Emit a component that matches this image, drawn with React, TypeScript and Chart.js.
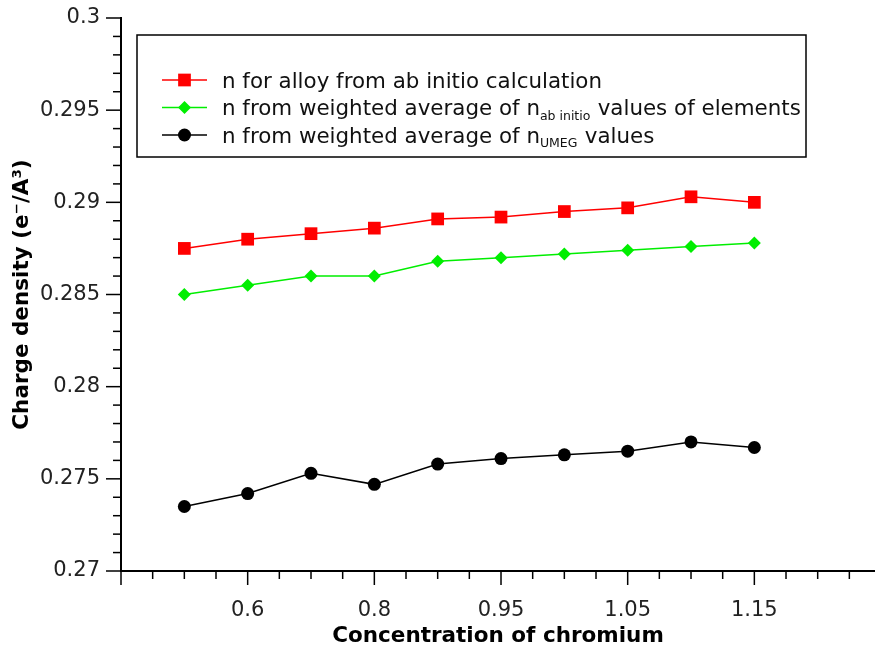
import React, { useEffect, useRef } from 'react';
import { Chart, registerables } from 'chart.js';

Chart.register(...registerables);

// Point positions (index of each composition along the axis)
const pointIndex = [0, 1, 2, 3, 4, 5, 6, 7, 8, 9];
// Labelled x ticks (by point index) and their text
const xTickIndex = [1, 3, 5, 7, 9];
const xTickLabels = ['0.6', '0.8', '0.95', '1.05', '1.15'];

// Series values (charge density, e-/A^3)
const alloyAbInitio = [0.2875, 0.2880, 0.2883, 0.2886, 0.2891, 0.2892, 0.2895, 0.2897, 0.2903, 0.2900];
const weightedAbInitio = [0.2850, 0.2855, 0.2860, 0.2860, 0.2868, 0.2870, 0.2872, 0.2874, 0.2876, 0.2878];
const weightedUmeg = [0.2735, 0.2742, 0.2753, 0.2747, 0.2758, 0.2761, 0.2763, 0.2765, 0.2770, 0.2767];

const seriesNames = [
  'n for alloy from ab initio calculation',
  'n from weighted average of n_ab initio values of elements',
  'n from weighted average of n_UMEG values',
];
// Legend text pieces: [text, isSubscript]
const legendParts: [string, boolean][][] = [
  [['n for alloy from ab initio calculation', false]],
  [['n from weighted average of n', false], ['ab initio', true], [' values of elements', false]],
  [['n from weighted average of n', false], ['UMEG', true], [' values', false]],
];
const seriesColors = ['#ff0000', '#00ee00', '#000000'];
const seriesMarkers = ['rect', 'rectRot', 'circle'];
const seriesRadius = [9, 6.5, 6.5];

const xTitle = 'Concentration of chromium';
const yTitle = 'Charge density (e\u207B/A\u00B3)';

const FONT = "'DejaVu Sans', sans-serif";

function drawMarker(ctx: CanvasRenderingContext2D, style: string, x: number, y: number, r: number, color: string) {
  ctx.save();
  ctx.fillStyle = color;
  ctx.beginPath();
  if (style === 'rect') {
    const s = Math.SQRT1_2 * r;
    ctx.rect(x - s, y - s, 2 * s, 2 * s);
  } else if (style === 'rectRot') {
    ctx.moveTo(x - r, y);
    ctx.lineTo(x, y - r);
    ctx.lineTo(x + r, y);
    ctx.lineTo(x, y + r);
    ctx.closePath();
  } else {
    ctx.arc(x, y, r, 0, Math.PI * 2);
  }
  ctx.fill();
  ctx.restore();
}

const ticksAndLegend = {
  id: 'ticksAndLegend',
  afterDraw(chart: any) {
    const ctx: CanvasRenderingContext2D = chart.ctx;
    const xs = chart.scales.x;
    const ys = chart.scales.y;
    ctx.save();
    ctx.strokeStyle = '#000';
    ctx.lineWidth = 1.5;
    // y ticks (outward, left)
    ys.ticks.forEach((t: any) => {
      const major = Math.round(t.value * 1000) % 5 === 0;
      const py = ys.getPixelForValue(t.value);
      ctx.beginPath();
      ctx.moveTo(ys.right - (major ? 15 : 8), py);
      ctx.lineTo(ys.right, py);
      ctx.stroke();
    });
    // x ticks (outward, down)
    xs.ticks.forEach((t: any) => {
      const major = Math.abs(t.value - Math.round(t.value)) < 1e-6 && Math.round(t.value) % 2 !== 0;
      const px = xs.getPixelForValue(t.value);
      ctx.beginPath();
      ctx.moveTo(px, xs.top);
      ctx.lineTo(px, xs.top + (major ? 14 : 8));
      ctx.stroke();
    });

    // Legend box
    const bx = 137, by = 35, bw = 669, bh = 122;
    ctx.fillStyle = '#fff';
    ctx.fillRect(bx, by, bw, bh);
    ctx.lineWidth = 1.5;
    ctx.strokeStyle = '#000';
    ctx.strokeRect(bx, by, bw, bh);
    const rowY = [80, 107.5, 135];
    legendParts.forEach((parts, i) => {
      const y = rowY[i];
      ctx.strokeStyle = seriesColors[i];
      ctx.lineWidth = 1.5;
      ctx.beginPath();
      ctx.moveTo(162, y);
      ctx.lineTo(207, y);
      ctx.stroke();
      drawMarker(ctx, seriesMarkers[i], 184.5, y, seriesRadius[i], seriesColors[i]);
      let tx = 222;
      ctx.fillStyle = '#111';
      ctx.textBaseline = 'alphabetic';
      ctx.textAlign = 'left';
      parts.forEach(([txt, sub]) => {
        ctx.font = sub ? `12.5px ${FONT}` : `21.4px ${FONT}`;
        ctx.fillText(txt, tx, y + (sub ? 12 : 7.5));
        tx += ctx.measureText(txt).width + (sub ? 0.5 : 0);
      });
    });
    ctx.restore();
  },
};

export default function App() {
  const ref = useRef<HTMLCanvasElement | null>(null);
  useEffect(() => {
    if (!ref.current) return;
    const datasets = [alloyAbInitio, weightedAbInitio, weightedUmeg].map((vals, i) => ({
      label: seriesNames[i],
      data: vals.map((v, k) => ({ x: pointIndex[k], y: v })),
      borderColor: seriesColors[i],
      backgroundColor: seriesColors[i],
      borderWidth: 1.5,
      pointStyle: seriesMarkers[i],
      pointRadius: seriesRadius[i],
      pointHoverRadius: seriesRadius[i],
      pointBorderWidth: 0,
      pointBackgroundColor: seriesColors[i],
      tension: 0,
    }));
    const chart = new Chart(ref.current, {
      type: 'line',
      data: { datasets },
      plugins: [ticksAndLegend],
      options: {
        animation: false,
        responsive: true,
        maintainAspectRatio: false,
        layout: { padding: { top: 18, right: 0, left: 0, bottom: 0 } },
        plugins: { legend: { display: false }, tooltip: { enabled: false } },
        scales: {
          x: {
            type: 'linear',
            min: -1,
            max: 10.905,
            grid: { display: false },
            border: { display: true, color: '#000', width: 2 },
            afterBuildTicks: (scale: any) => {
              const t = [];
              for (let k = -2; k <= 21; k++) t.push({ value: k / 2 });
              scale.ticks = t;
            },
            afterFit: (scale: any) => {
              scale.height = 82;
              scale.paddingLeft = 0;
              scale.paddingRight = 0;
            },
            ticks: {
              autoSkip: false,
              maxRotation: 0,
              padding: 19,
              color: '#222',
              font: { family: FONT, size: 21 },
              callback: (v: any) => {
                const idx = xTickIndex.findIndex((p) => Math.abs(p - Number(v)) < 1e-6);
                return idx >= 0 ? xTickLabels[idx] : '';
              },
            },
            title: {
              display: true,
              text: xTitle,
              color: '#000',
              font: { family: FONT, size: 21.5, weight: 'bold' },
              padding: { top: 0, bottom: 4 },
            },
          },
          y: {
            type: 'linear',
            min: 0.27,
            max: 0.3,
            grid: { display: false },
            border: { display: true, color: '#000', width: 2 },
            afterBuildTicks: (scale: any) => {
              const t = [];
              for (let k = 0; k <= 30; k++) t.push({ value: (270 + k) / 1000 });
              scale.ticks = t;
            },
            afterFit: (scale: any) => {
              scale.width = 121;
              scale.paddingTop = 0;
              scale.paddingBottom = 0;
            },
            ticks: {
              autoSkip: false,
              padding: 13,
              color: '#222',
              font: { family: FONT, size: 21 },
              callback: (v: any) => {
                const n = Math.round(Number(v) * 1000);
                return n % 5 === 0 ? String(Number((n / 1000).toFixed(3))) : '';
              },
            },
            title: {
              display: true,
              text: yTitle,
              color: '#000',
              font: { family: FONT, size: 21.5, weight: 'bold' },
              padding: { top: 10, bottom: 0 },
            },
          },
        },
      } as any,
    });
    return () => chart.destroy();
  }, []);
  return (
    <div style={{ position: 'fixed', left: 0, top: 0, width: 875, height: 653, overflow: 'hidden', background: '#fff' }}>
      <div style={{ position: 'absolute', left: 0, top: 0, width: 884, height: 653 }}>
        <canvas ref={ref} />
      </div>
    </div>
  );
}
